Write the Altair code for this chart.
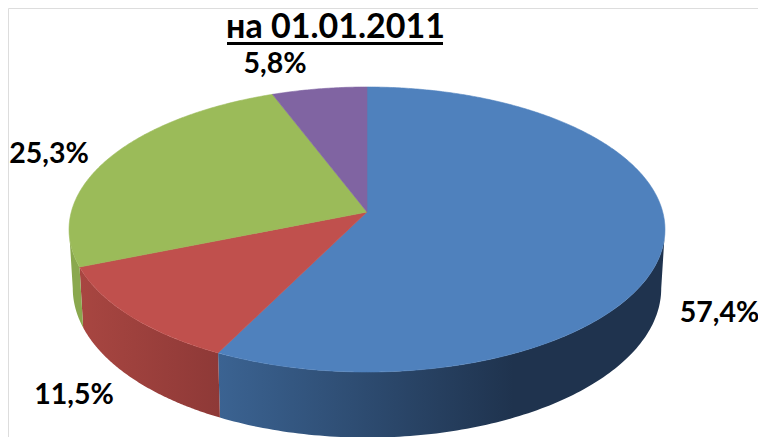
import numpy as np
import pandas as pd
import altair as alt

# Values
labels = ["57,4%", "11,5%", "25,3%", "5,8%"]
shares = [57.4, 11.5, 25.3, 5.8]
colors = ["#4f81bd", "#c0504d", "#9bbb59", "#8064a2"]
title_text = "на 01.01.2011"

# Label anchors, in reference pixels
label_x = [719.5, 74, 49, 275]
label_y = [313, 395, 154, 64]

# Projection of the tilted disc into reference pixels
CX = 367.0
TOP_CY, TOP_A, TOP_B = 212.0, 295.7, 140.35
BOT_CY, BOT_A, BOT_B = 270.0, 292.0, 147.0
K = 0.1228
W, H = 750, 429


def project(deg, cy, a, b, r=1.0):
    t = np.radians(deg)
    sx, sy = r * np.sin(t), r * np.cos(t)
    d = 1 + K * sy
    return CX + a * sx / d, cy - b * sy / d


edges = np.concatenate([[0.0], np.cumsum(shares)]) / sum(shares) * 360.0

x_scale = alt.Scale(domain=[8, 8 + W], range=[0, W], nice=False, zero=False)
y_scale = alt.Scale(domain=[8, 8 + H], range=[0, H], nice=False, zero=False)
X = alt.X("x:Q", scale=x_scale, axis=None)
Y = alt.Y("y:Q", scale=y_scale, axis=None)


def polygon(xs, ys, **mark):
    df = pd.DataFrame({"x": xs, "y": ys, "i": range(len(xs))})
    return (
        alt.Chart(df)
        .mark_line(filled=True, clip=False, interpolate="linear", **mark)
        .encode(x=X, y=Y, order="i:Q")
    )


def wall(a0, a1, fill):
    ang = np.linspace(a0, a1, 120)
    tx, ty = project(ang, TOP_CY, TOP_A, TOP_B)
    bx, by = project(ang, BOT_CY, BOT_A, BOT_B)
    return polygon(
        np.concatenate([tx, bx[::-1], tx[:1]]),
        np.concatenate([ty, by[::-1], ty[:1]]),
        fill=fill,
        strokeWidth=0,
        stroke=None,
    )


def grad(stops):
    return alt.LinearGradient(
        gradient="linear", x1=0, x2=1, y1=0, y2=0,
        stops=[alt.GradientStop(offset=o, color=c) for o, c in stops],
    )


layers = [
    wall(97.0, edges[1], grad([(0, "#3b6392"), (0.66, "#1f334e"), (1, "#1f334e")])),
    wall(edges[1], edges[2], grad([(0, "#a84641"), (1, "#8e3937")])),
    wall(edges[2], 263.0, "#8aa84e"),
]

for i, c in enumerate(colors):
    ang = np.linspace(edges[i], edges[i + 1], max(8, int((edges[i + 1] - edges[i]) * 2)))
    ex, ey = project(ang, TOP_CY, TOP_A, TOP_B)
    cx0, cy0 = project(0.0, TOP_CY, TOP_A, TOP_B, r=0.0)
    layers.append(
        polygon(
            np.concatenate([[cx0], ex, [cx0]]),
            np.concatenate([[cy0], ey, [cy0]]),
            fill=c,
            stroke=c,
            strokeWidth=0.6,
        )
    )

label_df = pd.DataFrame({"x": label_x, "y": label_y, "t": labels})
layers.append(
    alt.Chart(label_df)
    .mark_text(font="Lato", fontWeight="bold", fontSize=28.5, color="#000000", align="center", baseline="middle")
    .encode(x=X, y=Y, text="t:N")
)

title_df = pd.DataFrame({"x": [335.5], "y": [28], "t": [title_text]})
layers.append(
    alt.Chart(title_df)
    .mark_text(font="Lato", fontWeight="bold", fontSize=34, color="#000000", align="center", baseline="middle")
    .encode(x=X, y=Y, text="t:N")
)

rule_df = pd.DataFrame({"x": [227], "x2": [443], "y": [43.4]})
layers.append(
    alt.Chart(rule_df)
    .mark_rule(color="#000000", strokeWidth=3)
    .encode(x=X, x2="x2:Q", y=Y)
)

chart = (
    alt.layer(*layers)
    .properties(width=W, height=H, padding=0, autosize=alt.AutoSizeParams(type="none"))
    .configure_view(stroke=None)
    .configure(background="#ffffff")
)

chart.save("out.html", embed_options={"renderer": "svg", "actions": False})
